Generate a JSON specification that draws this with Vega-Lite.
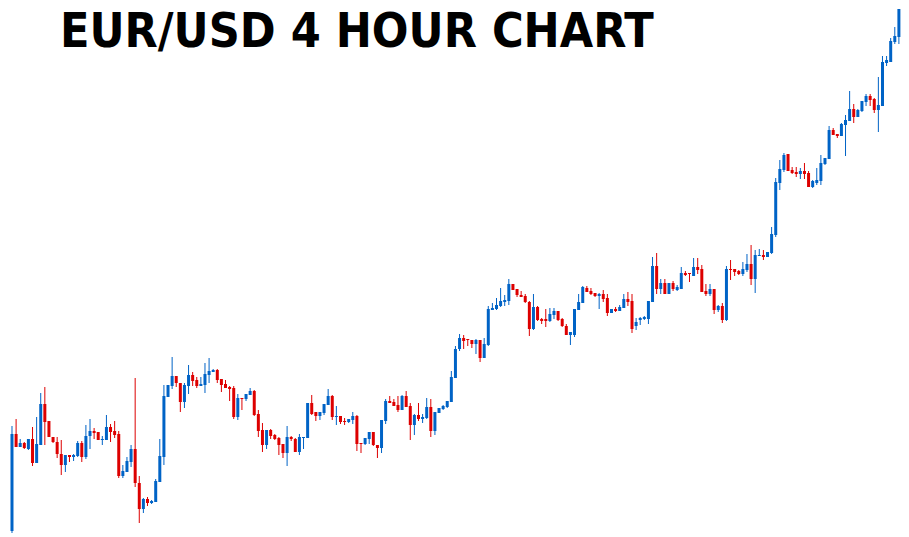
{
  "$schema": "https://vega.github.io/schema/vega-lite/v6.json",
  "width": 909,
  "height": 537,
  "padding": 0,
  "autosize": {"type": "fit", "contains": "padding"},
  "background": "white",
  "config": {"view": {"stroke": null}},
  "title": {
    "text": "EUR/USD 4 HOUR CHART",
    "anchor": "start",
    "frame": "group",
    "orient": "top",
    "offset": -57,
    "dx": 60,
    "baseline": "top",
    "font": "DejaVu Sans Condensed",
    "fontWeight": "bold",
    "fontSize": 48,
    "color": "black"
  },
  "data": {"values": [
{"i":1,"o":9,"c":106,"h":114,"l":7},
{"i":2,"o":106,"c":93,"h":121,"l":93},
{"i":3,"o":93,"c":97,"h":101,"l":93},
{"i":4,"o":97,"c":92,"h":98,"l":91},
{"i":5,"o":91,"c":101,"h":101,"l":90},
{"i":6,"o":101,"c":77,"h":113,"l":74},
{"i":7,"o":77,"c":96,"h":123,"l":77},
{"i":8,"o":95,"c":136,"h":147,"l":95},
{"i":9,"o":136,"c":118,"h":153,"l":95},
{"i":10,"o":119,"c":103,"h":119,"l":103},
{"i":11,"o":103,"c":98,"h":103,"l":97},
{"i":12,"o":98,"c":86,"h":103,"l":82},
{"i":13,"o":86,"c":75,"h":100,"l":65},
{"i":14,"o":75,"c":85,"h":85,"l":68},
{"i":15,"o":85,"c":83,"h":85,"l":78},
{"i":16,"o":83,"c":85,"h":86,"l":79},
{"i":17,"o":84,"c":97,"h":99,"l":83},
{"i":18,"o":97,"c":83,"h":99,"l":78},
{"i":19,"o":83,"c":104,"h":115,"l":81},
{"i":20,"o":104,"c":109,"h":121,"l":91},
{"i":21,"o":109,"c":107,"h":112,"l":101},
{"i":22,"o":108,"c":100,"h":108,"l":100},
{"i":23,"o":100,"c":101,"h":104,"l":95},
{"i":24,"o":100,"c":113,"h":125,"l":100},
{"i":25,"o":113,"c":108,"h":116,"l":98},
{"i":26,"o":109,"c":105,"h":119,"l":102},
{"i":27,"o":106,"c":64,"h":109,"l":62},
{"i":28,"o":64,"c":69,"h":75,"l":62},
{"i":29,"o":68,"c":79,"h":83,"l":68},
{"i":30,"o":78,"c":91,"h":95,"l":73},
{"i":31,"o":91,"c":57,"h":162,"l":53},
{"i":32,"o":57,"c":31,"h":64,"l":17},
{"i":33,"o":31,"c":41,"h":42,"l":27},
{"i":34,"o":41,"c":37,"h":43,"l":34},
{"i":35,"o":37,"c":39,"h":40,"l":36},
{"i":36,"o":38,"c":59,"h":61,"l":38},
{"i":37,"o":58,"c":84,"h":101,"l":58},
{"i":38,"o":83,"c":144,"h":155,"l":75},
{"i":39,"o":143,"c":155,"h":155,"l":143},
{"i":40,"o":154,"c":164,"h":183,"l":151},
{"i":41,"o":164,"c":157,"h":164,"l":153},
{"i":42,"o":157,"c":138,"h":157,"l":128},
{"i":43,"o":138,"c":155,"h":157,"l":132},
{"i":44,"o":154,"c":165,"h":175,"l":146},
{"i":45,"o":165,"c":159,"h":168,"l":154},
{"i":46,"o":160,"c":154,"h":163,"l":152},
{"i":47,"o":154,"c":156,"h":163,"l":154},
{"i":48,"o":155,"c":166,"h":177,"l":147},
{"i":49,"o":165,"c":169,"h":182,"l":157},
{"i":50,"o":168,"c":170,"h":171,"l":168},
{"i":51,"o":170,"c":160,"h":171,"l":157},
{"i":52,"o":161,"c":155,"h":161,"l":148},
{"i":53,"o":156,"c":152,"h":160,"l":152},
{"i":54,"o":153,"c":151,"h":154,"l":139},
{"i":55,"o":152,"c":123,"h":154,"l":121},
{"i":56,"o":123,"c":142,"h":146,"l":120},
{"i":57,"o":142,"c":141,"h":142,"l":130},
{"i":58,"o":141,"c":146,"h":146,"l":139},
{"i":59,"o":145,"c":149,"h":152,"l":145},
{"i":60,"o":149,"c":125,"h":150,"l":124},
{"i":61,"o":126,"c":109,"h":130,"l":103},
{"i":62,"o":110,"c":95,"h":117,"l":88},
{"i":63,"o":95,"c":110,"h":110,"l":91},
{"i":64,"o":110,"c":104,"h":111,"l":101},
{"i":65,"o":105,"c":101,"h":106,"l":100},
{"i":66,"o":102,"c":95,"h":103,"l":85},
{"i":67,"o":96,"c":87,"h":96,"l":82},
{"i":68,"o":87,"c":103,"h":114,"l":74},
{"i":69,"o":103,"c":101,"h":104,"l":99},
{"i":70,"o":101,"c":88,"h":102,"l":88},
{"i":71,"o":88,"c":103,"h":106,"l":85},
{"i":72,"o":102,"c":103,"h":103,"l":91},
{"i":73,"o":102,"c":137,"h":137,"l":102},
{"i":74,"o":137,"c":126,"h":145,"l":125},
{"i":75,"o":128,"c":124,"h":128,"l":119},
{"i":76,"o":124,"c":128,"h":128,"l":120},
{"i":77,"o":127,"c":136,"h":136,"l":125},
{"i":78,"o":135,"c":144,"h":151,"l":135},
{"i":79,"o":144,"c":123,"h":145,"l":120},
{"i":80,"o":123,"c":124,"h":134,"l":115},
{"i":81,"o":124,"c":118,"h":124,"l":116},
{"i":82,"o":119,"c":118,"h":122,"l":115},
{"i":83,"o":118,"c":121,"h":121,"l":117},
{"i":84,"o":120,"c":124,"h":128,"l":116},
{"i":85,"o":124,"c":96,"h":125,"l":89},
{"i":86,"o":97,"c":96,"h":97,"l":87},
{"i":87,"o":96,"c":102,"h":102,"l":95},
{"i":88,"o":101,"c":108,"h":108,"l":96},
{"i":89,"o":108,"c":95,"h":108,"l":94},
{"i":90,"o":95,"c":92,"h":95,"l":82},
{"i":91,"o":92,"c":120,"h":120,"l":87},
{"i":92,"o":119,"c":139,"h":141,"l":116},
{"i":93,"o":139,"c":137,"h":144,"l":137},
{"i":94,"o":138,"c":134,"h":141,"l":134},
{"i":95,"o":135,"c":130,"h":144,"l":128},
{"i":96,"o":130,"c":144,"h":145,"l":130},
{"i":97,"o":144,"c":133,"h":149,"l":133},
{"i":98,"o":134,"c":115,"h":137,"l":100},
{"i":99,"o":115,"c":125,"h":126,"l":105},
{"i":100,"o":125,"c":121,"h":137,"l":119},
{"i":101,"o":121,"c":123,"h":126,"l":117},
{"i":102,"o":122,"c":133,"h":142,"l":121},
{"i":103,"o":133,"c":109,"h":141,"l":103},
{"i":104,"o":109,"c":128,"h":128,"l":105},
{"i":105,"o":127,"c":132,"h":132,"l":127},
{"i":106,"o":131,"c":134,"h":135,"l":130},
{"i":107,"o":133,"c":139,"h":139,"l":132},
{"i":108,"o":138,"c":163,"h":169,"l":138},
{"i":109,"o":162,"c":191,"h":194,"l":162},
{"i":110,"o":191,"c":202,"h":206,"l":189},
{"i":111,"o":202,"c":199,"h":205,"l":191},
{"i":112,"o":201,"c":200,"h":201,"l":194},
{"i":113,"o":200,"c":196,"h":200,"l":192},
{"i":114,"o":196,"c":200,"h":201,"l":186},
{"i":115,"o":200,"c":182,"h":200,"l":178},
{"i":116,"o":182,"c":196,"h":202,"l":182},
{"i":117,"o":195,"c":231,"h":234,"l":194},
{"i":118,"o":230,"c":232,"h":237,"l":230},
{"i":119,"o":231,"c":235,"h":242,"l":230},
{"i":120,"o":234,"c":239,"h":252,"l":233},
{"i":121,"o":238,"c":240,"h":245,"l":234},
{"i":122,"o":239,"c":256,"h":261,"l":235},
{"i":123,"o":256,"c":250,"h":256,"l":250},
{"i":124,"o":251,"c":245,"h":251,"l":243},
{"i":125,"o":245,"c":243,"h":249,"l":243},
{"i":126,"o":244,"c":238,"h":246,"l":237},
{"i":127,"o":238,"c":211,"h":239,"l":204},
{"i":128,"o":211,"c":233,"h":246,"l":210},
{"i":129,"o":233,"c":220,"h":234,"l":219},
{"i":130,"o":221,"c":219,"h":222,"l":216},
{"i":131,"o":221,"c":219,"h":231,"l":213},
{"i":132,"o":219,"c":226,"h":232,"l":218},
{"i":133,"o":225,"c":229,"h":232,"l":221},
{"i":134,"o":229,"c":220,"h":229,"l":219},
{"i":135,"o":221,"c":214,"h":222,"l":213},
{"i":136,"o":214,"c":205,"h":216,"l":205},
{"i":137,"o":205,"c":208,"h":208,"l":195},
{"i":138,"o":205,"c":231,"h":231,"l":203},
{"i":139,"o":230,"c":238,"h":246,"l":230},
{"i":140,"o":237,"c":253,"h":254,"l":237},
{"i":141,"o":252,"c":248,"h":254,"l":248},
{"i":142,"o":249,"c":246,"h":252,"l":245},
{"i":143,"o":247,"c":244,"h":247,"l":243},
{"i":144,"o":244,"c":246,"h":247,"l":231},
{"i":145,"o":246,"c":241,"h":250,"l":238},
{"i":146,"o":242,"c":227,"h":246,"l":224},
{"i":147,"o":227,"c":231,"h":231,"l":227},
{"i":148,"o":231,"c":229,"h":233,"l":228},
{"i":149,"o":229,"c":233,"h":235,"l":229},
{"i":150,"o":232,"c":241,"h":246,"l":232},
{"i":151,"o":241,"c":238,"h":248,"l":234},
{"i":152,"o":239,"c":211,"h":246,"l":207},
{"i":153,"o":214,"c":218,"h":222,"l":210},
{"i":154,"o":220,"c":222,"h":223,"l":215},
{"i":155,"o":221,"c":223,"h":224,"l":220},
{"i":156,"o":221,"c":239,"h":239,"l":216},
{"i":157,"o":238,"c":274,"h":283,"l":238},
{"i":158,"o":274,"c":251,"h":287,"l":246},
{"i":159,"o":251,"c":257,"h":261,"l":246},
{"i":160,"o":257,"c":246,"h":261,"l":246},
{"i":161,"o":246,"c":257,"h":257,"l":246},
{"i":162,"o":257,"c":251,"h":259,"l":249},
{"i":163,"o":250,"c":253,"h":255,"l":249},
{"i":164,"o":251,"c":267,"h":273,"l":251},
{"i":165,"o":267,"c":265,"h":269,"l":264},
{"i":166,"o":267,"c":266,"h":267,"l":258},
{"i":167,"o":264,"c":273,"h":282,"l":264},
{"i":168,"o":273,"c":270,"h":282,"l":266},
{"i":169,"o":271,"c":248,"h":275,"l":248},
{"i":170,"o":249,"c":246,"h":256,"l":244},
{"i":171,"o":246,"c":251,"h":256,"l":244},
{"i":172,"o":251,"c":230,"h":251,"l":226},
{"i":173,"o":230,"c":234,"h":235,"l":228},
{"i":174,"o":234,"c":220,"h":237,"l":217},
{"i":175,"o":220,"c":271,"h":274,"l":219},
{"i":176,"o":271,"c":270,"h":280,"l":260},
{"i":177,"o":271,"c":268,"h":271,"l":264},
{"i":178,"o":269,"c":266,"h":270,"l":265},
{"i":179,"o":266,"c":271,"h":278,"l":264},
{"i":180,"o":270,"c":276,"h":286,"l":268},
{"i":181,"o":276,"c":261,"h":295,"l":255},
{"i":182,"o":261,"c":285,"h":290,"l":247},
{"i":183,"o":284,"c":285,"h":291,"l":284},
{"i":184,"o":285,"c":283,"h":290,"l":280},
{"i":185,"o":283,"c":288,"h":288,"l":283},
{"i":186,"o":287,"c":306,"h":313,"l":286},
{"i":187,"o":305,"c":358,"h":362,"l":303},
{"i":188,"o":357,"c":371,"h":380,"l":350},
{"i":189,"o":370,"c":385,"h":387,"l":368},
{"i":190,"o":386,"c":369,"h":386,"l":369},
{"i":191,"o":370,"c":367,"h":373,"l":366},
{"i":192,"o":368,"c":366,"h":373,"l":363},
{"i":193,"o":366,"c":369,"h":372,"l":361},
{"i":194,"o":369,"c":366,"h":377,"l":361},
{"i":195,"o":367,"c":353,"h":369,"l":353},
{"i":196,"o":353,"c":359,"h":360,"l":352},
{"i":197,"o":357,"c":360,"h":372,"l":355},
{"i":198,"o":359,"c":377,"h":385,"l":355},
{"i":199,"o":376,"c":382,"h":382,"l":375},
{"i":200,"o":381,"c":410,"h":414,"l":381},
{"i":201,"o":410,"c":405,"h":412,"l":405},
{"i":202,"o":406,"c":404,"h":406,"l":402},
{"i":203,"o":404,"c":416,"h":417,"l":404},
{"i":204,"o":415,"c":420,"h":425,"l":384},
{"i":205,"o":419,"c":431,"h":449,"l":419},
{"i":206,"o":431,"c":423,"h":436,"l":417},
{"i":207,"o":423,"c":430,"h":431,"l":423},
{"i":208,"o":429,"c":439,"h":439,"l":428},
{"i":209,"o":438,"c":444,"h":446,"l":434},
{"i":210,"o":444,"c":440,"h":446,"l":434},
{"i":211,"o":441,"c":430,"h":442,"l":427},
{"i":212,"o":430,"c":435,"h":463,"l":408},
{"i":213,"o":434,"c":478,"h":484,"l":434},
{"i":214,"o":477,"c":480,"h":484,"l":474},
{"i":215,"o":478,"c":499,"h":502,"l":478},
{"i":216,"o":498,"c":504,"h":513,"l":496},
{"i":217,"o":503,"c":531,"h":531,"l":496}
  ]},
  "encoding": {
    "x": {"field": "i", "type": "quantitative", "axis": null, "scale": {"domain": [-1.92, 219.46], "nice": false, "zero": false, "padding": 0}},
    "color": {"condition": {"test": "datum.c > datum.o", "value": "#0063C6"}, "value": "#DD0000"}
  },
  "layer": [
    {
      "mark": {"type": "rule", "strokeWidth": 1},
      "encoding": {
        "y": {"field": "l", "type": "quantitative", "axis": null, "scale": {"domain": [3, 540], "nice": false, "zero": false, "padding": 0}},
        "y2": {"field": "h"}
      }
    },
    {
      "mark": {"type": "bar", "size": 3, "orient": "vertical"},
      "encoding": {
        "y": {"field": "o", "type": "quantitative", "axis": null, "scale": {"domain": [3, 540], "nice": false, "zero": false, "padding": 0}},
        "y2": {"field": "c"}
      }
    }
  ]
}
